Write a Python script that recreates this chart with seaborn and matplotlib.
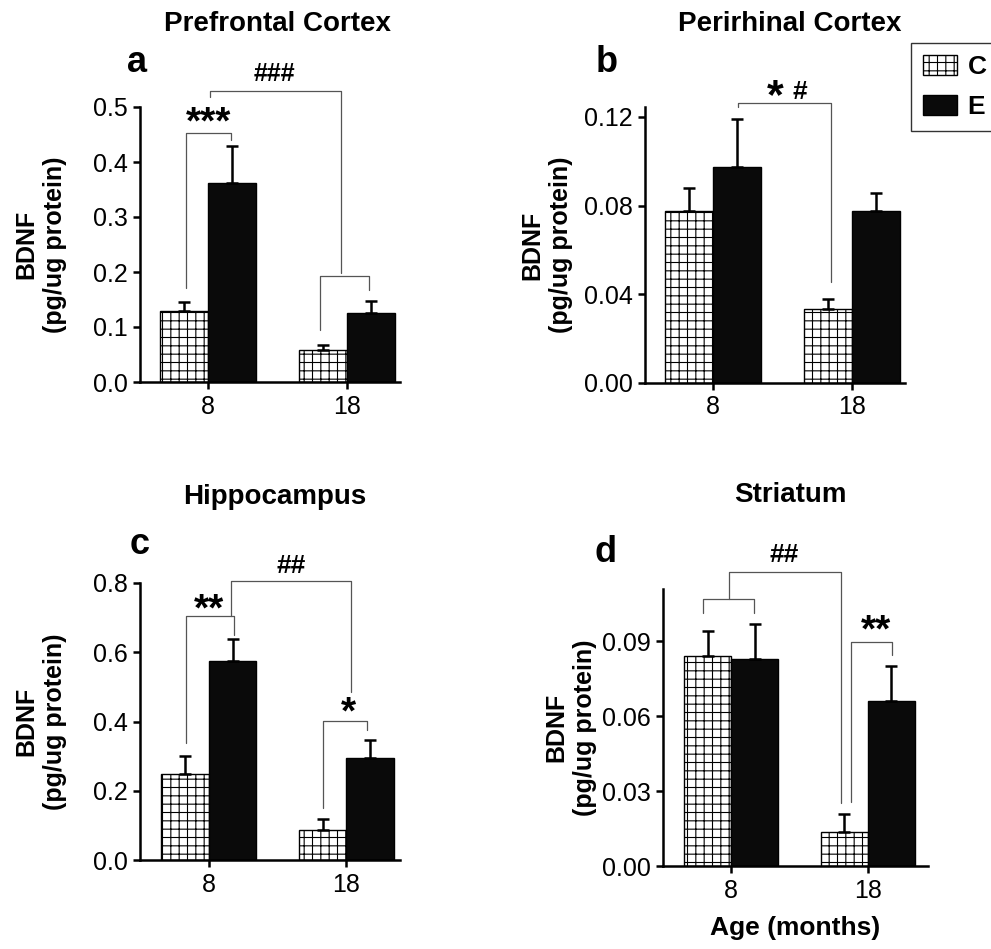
import numpy as np
import pandas as pd
import matplotlib
matplotlib.use("Agg")
import matplotlib.pyplot as plt
from matplotlib.patches import Patch
import seaborn as sns

# ---------------- data ----------------
ages = ["8", "18"]
groups = ["C", "E"]

pfc_c = [0.130, 0.058]
pfc_c_sem = [0.015, 0.009]
pfc_e = [0.362, 0.125]
pfc_e_sem = [0.067, 0.022]

prh_c = [0.0776, 0.0336]
prh_c_sem = [0.0104, 0.0044]
prh_e = [0.0975, 0.0776]
prh_e_sem = [0.0215, 0.0081]

hip_c = [0.249, 0.087]
hip_c_sem = [0.051, 0.032]
hip_e = [0.575, 0.295]
hip_e_sem = [0.064, 0.052]

str_c = [0.084, 0.0136]
str_c_sem = [0.010, 0.0074]
str_e = [0.083, 0.066]
str_e_sem = [0.014, 0.014]

titles = ["Prefrontal Cortex", "Perirhinal Cortex", "Hippocampus", "Striatum"]
letters = ["a", "b", "c", "d"]
yticks_list = [[0.0, 0.1, 0.2, 0.3, 0.4, 0.5],
               [0.00, 0.04, 0.08, 0.12],
               [0.0, 0.2, 0.4, 0.6, 0.8],
               [0.00, 0.03, 0.06, 0.09]]
yfmt = ["{:.1f}", "{:.2f}", "{:.1f}", "{:.2f}"]
ylims = [0.5, 0.1245, 0.8, 0.111]
xlims = [(-0.49, 1.38), (-0.49, 1.38), (-0.50, 1.39), (-0.50, 1.44)]

# brackets: (x_left, x_right, y_bar, y_left_end, y_right_end)
brackets = [
    [(-0.158, 0.165, 0.453, 0.171, 0.440),
     (0.014, 0.957, 0.529, 0.518, 0.198),
     (0.806, 1.158, 0.193, 0.095, 0.167)],
    [(0.18, 0.849, 0.1265, 0.1247, 0.0454)],
    [(-0.168, 0.182, 0.705, 0.338, 0.650),
     (0.160, 1.036, 0.807, 0.705, 0.486),
     (0.832, 1.153, 0.402, 0.150, 0.376)],
    [(-0.204, 0.168, 0.1068, 0.1012, 0.1012),
     (-0.015, 0.803, 0.118, 0.1068, 0.0252),
     (0.876, 1.175, 0.0896, 0.0256, 0.0844)],
]
# significance marks: (x, y_baseline, text, size)
marks = [
    [(0.0, 0.452, "***", 28), (0.48, 0.547, "###", 18)],
    [(0.446, 0.1242, "*", 31), (0.62, 0.1283, "#", 19)],
    [(0.0, 0.691, "**", 28), (0.60, 0.830, "##", 19), (1.015, 0.394, "*", 28)],
    [(1.06, 0.0898, "**", 28), (0.39, 0.122, "##", 19)],
]

datasets = [
    (pfc_c, pfc_c_sem, pfc_e, pfc_e_sem),
    (prh_c, prh_c_sem, prh_e, prh_e_sem),
    (hip_c, hip_c_sem, hip_e, hip_e_sem),
    (str_c, str_c_sem, str_e, str_e_sem),
]

# ---------------- style ----------------
sns.set_style("ticks")
plt.rcParams["font.family"] = ["Liberation Sans", "DejaVu Sans"]
plt.rcParams["hatch.linewidth"] = 0.8
plt.rcParams["hatch.color"] = "black"
plt.rcParams["text.color"] = "black"
plt.rcParams["axes.labelcolor"] = "black"
plt.rcParams["xtick.color"] = "black"
plt.rcParams["ytick.color"] = "black"

W, H = 991, 949
fig = plt.figure(figsize=(W / 100, H / 100), dpi=100)

def frac_rect(left, right, top, bottom):
    return [left / W, 1 - bottom / H, (right - left) / W, (bottom - top) / H]

rects = [frac_rect(140, 400, 107, 382),
         frac_rect(645, 905, 107, 383),
         frac_rect(140, 400, 583, 860),
         frac_rect(663, 928, 589, 866)]
label_x = [-0.28, -0.277, -0.28, -0.25]

for i in range(4):
    ax = fig.add_axes(rects[i])
    c, cs, e, es = datasets[i]
    df = pd.DataFrame({
        "age": ages + ages,
        "group": ["C"] * len(ages) + ["E"] * len(ages),
        "value": list(c) + list(e),
    })
    sns.barplot(data=df, x="age", y="value", hue="group", order=ages,
                hue_order=groups, palette={"C": "white", "E": "#0a0a0a"},
                saturation=1, width=0.69, gap=0, errorbar=None, legend=False,
                edgecolor="black", linewidth=1.0, ax=ax)
    for p in ax.containers[0]:
        p.set_hatch("++")
    for cont, vals, sems in zip(ax.containers, [c, e], [cs, es]):
        xs = [p.get_x() + p.get_width() / 2 for p in cont]
        ax.errorbar(xs, vals, yerr=[np.zeros(len(vals)), sems], fmt="none",
                    ecolor="black", elinewidth=1.8, capsize=4.3, capthick=1.8,
                    zorder=1)
    ax.set_xlim(*xlims[i])
    ax.set_ylim(0, ylims[i])
    ax.set_yticks(yticks_list[i])
    ax.set_yticklabels([yfmt[i].format(t) for t in yticks_list[i]])
    ax.set_xticks(range(len(ages)))
    ax.set_xticklabels(ages)
    ax.tick_params(axis="both", labelsize=18, length=5, width=1.8,
                   direction="out", colors="black", pad=4)
    for s in ["top", "right"]:
        ax.spines[s].set_visible(False)
    for s in ["left", "bottom"]:
        ax.spines[s].set_linewidth(1.8)
        ax.spines[s].set_color("black")
    ax.set_ylabel("BDNF\n(pg/ug protein)", fontsize=18, fontweight="bold",
                  linespacing=1.25, color="black")
    ax.yaxis.set_label_coords(label_x[i], 0.5)
    ax.set_xlabel("Age (months)" if i == 3 else "", fontsize=19,
                  fontweight="bold", labelpad=10, color="black")

    for (xl, xr, yb, yl, yr) in brackets[i]:
        ax.plot([xl, xl, xr, xr], [yl, yb, yb, yr], color="#555555", lw=0.9,
                clip_on=False, zorder=3)
    for (x, y, t, sz) in marks[i]:
        ax.text(x, y, t, ha="center", va="baseline", fontsize=sz,
                fontweight="bold", color="black", clip_on=False)

# titles and panel letters (pixel positions)
title_pos = [(277, 24), (790, 24), (275, 497), (790, 495)]
letter_pos = [(137, 63), (607, 63), (140, 545), (606, 553)]
for t, (x, y) in zip(titles, title_pos):
    fig.text(x / W, 1 - y / H, t, ha="center", va="center", fontsize=20,
             fontweight="bold", color="black")
for t, (x, y) in zip(letters, letter_pos):
    fig.text(x / W, 1 - y / H, t, ha="center", va="center", fontsize=26,
             fontweight="bold", color="black")

handles = [Patch(facecolor="white", edgecolor="black", hatch="++", label="C"),
           Patch(facecolor="#0a0a0a", edgecolor="black", label="E")]
leg = fig.legend(handles=handles, loc="upper left",
                 bbox_to_anchor=(911 / W, 1 - 43 / H), frameon=True,
                 fancybox=False, edgecolor="black",
                 prop={"weight": "bold", "size": 19},
                 handlelength=1.3, handleheight=0.8, handletextpad=0.4,
                 borderpad=0.45, labelspacing=0.6, borderaxespad=0)
leg.get_frame().set_linewidth(1.0)
for txt in leg.get_texts():
    txt.set_color("black")

fig.savefig("out.png", dpi=100)
